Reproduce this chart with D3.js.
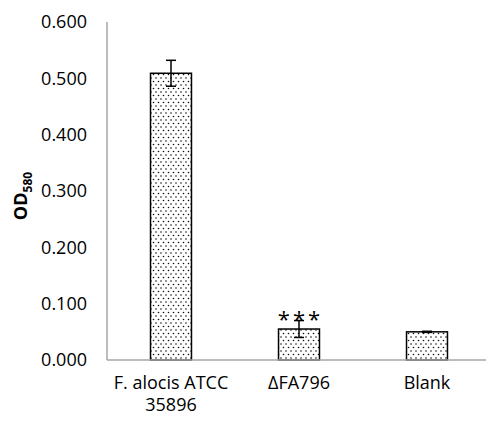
<!DOCTYPE html>
<html>
<head>
<meta charset="utf-8">
<script src="https://cdn.jsdelivr.net/npm/d3@7"></script>
<style>
  body { margin: 0; background: #fff; }
  text { font-family: "Open Sans", sans-serif; fill: #000; }
</style>
</head>
<body>
<div id="chart"></div>
<script>
var categories = ["F. alocis ATCC\n35896", "\u0394FA796", "Blank"];
var values = [0.509, 0.055, 0.050];
var errors = [0.023, 0.015, 0.001];
var marks = ["", "***", ""];
var yTicks = [0, 0.1, 0.2, 0.3, 0.4, 0.5, 0.6];

var W = 486, H = 422;
var svg = d3.select("#chart").append("svg")
  .attr("width", W)
  .attr("height", H);

// dotted fill
var pat = svg.append("defs").append("pattern")
  .attr("id", "dots")
  .attr("patternUnits", "userSpaceOnUse")
  .attr("width", 5)
  .attr("height", 7);
pat.append("rect").attr("width", 5).attr("height", 7).attr("fill", "#fff");
pat.append("circle").attr("cx", 1).attr("cy", 1).attr("r", 0.8).attr("fill", "#111");
pat.append("circle").attr("cx", 3.5).attr("cy", 4.5).attr("r", 0.8).attr("fill", "#111");

var x = d3.scaleBand()
  .domain(categories)
  .range([107, 491])
  .paddingInner(0.68)
  .paddingOuter(0.34);

var y = d3.scaleLinear()
  .domain([0, 0.6])
  .range([360, 22]);

// y tick labels
svg.append("g").selectAll("text")
  .data(yTicks)
  .enter()
  .append("text")
    .attr("x", 87)
    .attr("y", function(d) { return y(d); })
    .attr("dy", "0.36em")
    .attr("text-anchor", "end")
    .style("font-size", "18px")
    .text(function(d) { return d3.format(".3f")(d); });

// axis lines
svg.append("line")
  .attr("x1", 107).attr("x2", 107)
  .attr("y1", y(0.6)).attr("y2", y(0))
  .attr("stroke", "#a6a6a6").attr("stroke-width", 1.5);

// bars
svg.append("g").selectAll("rect")
  .data(values)
  .enter()
  .append("rect")
    .attr("x", function(d, i) { return x(categories[i]); })
    .attr("y", function(d) { return y(d); })
    .attr("width", x.bandwidth())
    .attr("height", function(d) { return y(0) - y(d); })
    .attr("fill", "url(#dots)")
    .attr("stroke", "#000")
    .attr("stroke-width", 1.5);

svg.append("line")
  .attr("x1", 107).attr("x2", W)
  .attr("y1", y(0)).attr("y2", y(0))
  .attr("stroke", "#a6a6a6").attr("stroke-width", 1.5);

// error bars
var eb = svg.append("g").attr("stroke", "#000").attr("stroke-width", 1.5);
values.forEach(function(v, i) {
  var cx = x(categories[i]) + x.bandwidth() / 2;
  var lo = y(v - errors[i]), hi = y(v + errors[i]);
  eb.append("line").attr("x1", cx).attr("x2", cx).attr("y1", lo).attr("y2", hi);
  eb.append("line").attr("x1", cx - 5).attr("x2", cx + 5).attr("y1", hi).attr("y2", hi);
  eb.append("line").attr("x1", cx - 5).attr("x2", cx + 5).attr("y1", lo).attr("y2", lo);
});

// significance stars
svg.append("g").selectAll("text")
  .data(marks)
  .enter()
  .append("text")
    .attr("x", function(d, i) { return x(categories[i]) + x.bandwidth() / 2 + 1.5; })
    .attr("y", function(d, i) { return y(values[i] + errors[i]) + 6; })
    .attr("text-anchor", "middle")
    .style("font-size", "22px")
    .style("letter-spacing", "3px")
    .text(function(d) { return d; });

// x labels
var xl = svg.append("g").selectAll("text")
  .data(categories)
  .enter()
  .append("text")
    .attr("x", function(d) { return x(d) + x.bandwidth() / 2; })
    .attr("y", 389)
    .attr("text-anchor", "middle")
    .style("font-size", "18px");
xl.each(function(d) {
  var t = d3.select(this);
  d.split("\n").forEach(function(line, j) {
    t.append("tspan")
      .attr("x", t.attr("x"))
      .attr("dy", j === 0 ? 0 : 22)
      .text(line);
  });
});

// y title
var yt = svg.append("text")
  .attr("transform", "translate(27,196) rotate(-90)")
  .attr("text-anchor", "middle")
  .style("font-size", "18px")
  .style("font-weight", "bold");
yt.append("tspan").text("OD");
yt.append("tspan").attr("dy", 5).style("font-size", "12px").text("580");
</script>
</body>
</html>
